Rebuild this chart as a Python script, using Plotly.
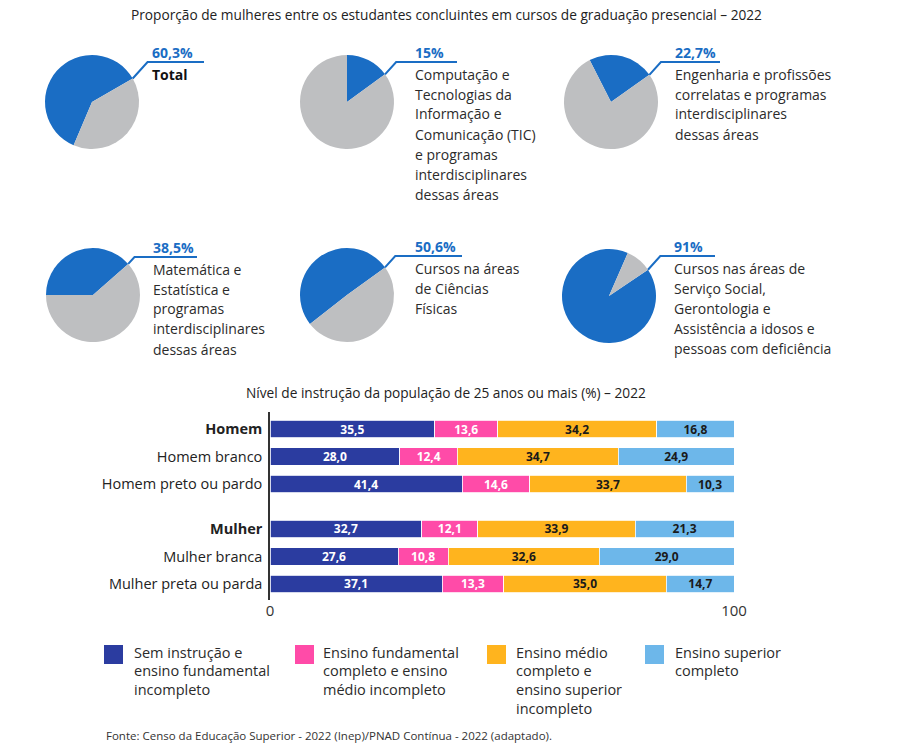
import plotly.graph_objects as go
import math

# ---------------- data ----------------
title_top = "Proporção de mulheres entre os estudantes concluintes em cursos de graduação presencial – 2022"
pie_pct_labels = ["60,3%", "15%", "22,7%", "38,5%", "50,6%", "91%"]
pie_values = [60.3, 15.0, 22.7, 38.5, 50.6, 91.0]
pie_names = [
    "Total",
    "Computação e\nTecnologias da\nInformação e\nComunicação (TIC)\ne programas\ninterdisciplinares\ndessas áreas",
    "Engenharia e profissões\ncorrelatas e programas\ninterdisciplinares\ndessas áreas",
    "Matemática e\nEstatística e\nprogramas\ninterdisciplinares\ndessas áreas",
    "Cursos na áreas\nde Ciências\nFísicas",
    "Cursos nas áreas de\nServiço Social,\nGerontologia e\nAssistência a idosos e\npessoas com deficiência",
]

bar_title = "Nível de instrução da população de 25 anos ou mais (%) – 2022"
categories = ["Homem", "Homem branco", "Homem preto ou pardo",
              "Mulher", "Mulher branca", "Mulher preta ou parda"]
bold_categories = ["Homem", "Mulher"]
series_names = [
    "Sem instrução e\nensino fundamental\nincompleto",
    "Ensino fundamental\ncompleto e ensino\nmédio incompleto",
    "Ensino médio\ncompleto e\nensino superior\nincompleto",
    "Ensino superior\ncompleto",
]
sem_instrucao = [35.5, 28.0, 41.4, 32.7, 27.6, 37.1]
fundamental = [13.6, 12.4, 14.6, 12.1, 10.8, 13.3]
medio = [34.2, 34.7, 33.7, 33.9, 32.6, 35.0]
superior = [16.8, 24.9, 10.3, 21.3, 29.0, 14.7]
x_ticks = [0, 100]
footnote = "Fonte: Censo da Educação Superior - 2022 (Inep)/PNAD Contínua - 2022 (adaptado)."

# ---------------- style / layout ----------------
W, H = 912, 754
FONT = "Open Sans"
BLUE = "#1A6DC4"
GRAY = "#BEBFC1"
TXT = "#2b2b2b"
bar_colors = ["#2B3CA0", "#FF4BA8", "#FFB41E", "#6DB7EA"]
bar_text_colors = ["white", "white", "#1a1a1a", "#1a1a1a"]


def px(x):
    return x / W


def py(y):
    return 1 - y / H


fig = go.Figure()
annotations = []
shapes = []

# pies
pie_centers = [(92, 102), (347, 102), (611, 102), (93, 295), (347, 295), (609, 296)]
pie_r = 47
pie_rot = [203, 0, 333, 270, 232, 56]
leader_angle = [60, 54, 54.7, 48.6, 54, 56]
line_y = [62, 62, 62, 257, 256, 256]
text_x = [150, 413, 673, 151, 413, 672]
line_end = [204, 457, 720, 197, 462, 715]

for i, v in enumerate(pie_values):
    cx, cy = pie_centers[i]
    fig.add_trace(go.Pie(
        values=[v, 100 - v],
        marker=dict(colors=[BLUE, GRAY], line=dict(width=0)),
        sort=False, direction="clockwise", rotation=pie_rot[i],
        textinfo="none", hoverinfo="skip", showlegend=False, automargin=False,
        domain=dict(x=[px(cx - pie_r), px(cx + pie_r)],
                    y=[py(cy + pie_r), py(cy - pie_r)]),
    ))
    a = math.radians(leader_angle[i])
    sx = cx + pie_r * math.sin(a)
    sy = cy - pie_r * math.cos(a)
    ex = sx + (sy - line_y[i]) * 0.9
    shapes.append(dict(
        type="path", xref="paper", yref="paper",
        path=f"M {px(sx)} {py(sy)} L {px(ex)} {py(line_y[i])} L {px(line_end[i])} {py(line_y[i])}",
        line=dict(color=BLUE, width=2),
    ))
    annotations.append(dict(
        x=px(text_x[i]), y=py(line_y[i] - 10), xref="paper", yref="paper",
        text=f"<b>{pie_pct_labels[i]}</b>", showarrow=False,
        xanchor="left", yanchor="middle",
        font=dict(family=FONT, size=14, color=BLUE),
    ))
    for j, ln in enumerate(pie_names[i].split("\n")):
        t = f"<b>{ln}</b>" if ln == "Total" else ln
        annotations.append(dict(
            x=px(text_x[i]), y=py(line_y[i] + 12 + 20 * j), xref="paper", yref="paper",
            text=t, showarrow=False, xanchor="left", yanchor="middle",
            font=dict(family=FONT, size=14, color="#111" if ln == "Total" else TXT),
        ))

# bars
gap = 1.636
ypos = [i if i < 3 else i - 1 + gap for i in range(len(categories))]
series = [sem_instrucao, fundamental, medio, superior]
for k, vals in enumerate(series):
    fig.add_trace(go.Bar(
        y=ypos, x=vals, orientation="h", width=0.65,
        name=series_names[k].replace("\n", " "),
        marker=dict(color=bar_colors[k], line=dict(color="white", width=0.8)),
        text=[f"{v:.1f}".replace(".", ",") for v in vals],
        textposition="inside", insidetextanchor="middle",
        textfont=dict(family=FONT, size=12, color=bar_text_colors[k], weight="bold"),
        textangle=0, constraintext="none",
        hoverinfo="skip", showlegend=False,
    ))

ticktext = [f"<b>{c}</b>" if c in bold_categories else c for c in categories]

top_px, bot_px, row0_px, pitch = 412, 600, 429, 27.5
fig.update_layout(
    width=W, height=H, autosize=False,
    margin=dict(l=0, r=0, t=0, b=0, pad=0, autoexpand=False),
    paper_bgcolor="white", plot_bgcolor="white",
    barmode="stack",
    font=dict(family=FONT, color=TXT),
    xaxis=dict(domain=[px(270), px(734)], range=[0, 100], tickvals=x_ticks,
               showgrid=False, zeroline=False, showline=False, ticks="",
               automargin=False,
               tickfont=dict(family=FONT, size=15, color="#333")),
    yaxis=dict(domain=[py(bot_px), py(top_px)],
               range=[(bot_px - row0_px) / pitch, (top_px - row0_px) / pitch],
               tickvals=ypos, ticktext=ticktext, showgrid=False, zeroline=False,
               showline=True, linecolor="#333", linewidth=1.5, ticks="",
               ticklabelstandoff=3, automargin=False,
               tickfont=dict(family=FONT, size=14.5, color="#222")),
)

# titles
annotations.append(dict(x=px(446), y=py(14), xref="paper", yref="paper", text=title_top,
                        showarrow=False, xanchor="center", yanchor="middle",
                        font=dict(family=FONT, size=13.7, color="#222")))
annotations.append(dict(x=px(446), y=py(392), xref="paper", yref="paper", text=bar_title,
                        showarrow=False, xanchor="center", yanchor="middle",
                        font=dict(family=FONT, size=13.7, color="#222")))

# legend
leg_sw_x = [104, 295, 487, 645]
leg_tx_x = [132, 321, 514, 673]
for k in range(4):
    shapes.append(dict(type="rect", xref="paper", yref="paper",
                       x0=px(leg_sw_x[k]), x1=px(leg_sw_x[k] + 19),
                       y0=py(664), y1=py(645),
                       fillcolor=bar_colors[k], line=dict(width=0)))
    for j, ln in enumerate(series_names[k].split("\n")):
        annotations.append(dict(x=px(leg_tx_x[k]), y=py(652 + 18.7 * j), xref="paper", yref="paper",
                                text=ln, showarrow=False, xanchor="left", yanchor="middle",
                                font=dict(family=FONT, size=14.5, color=TXT)))

annotations.append(dict(x=px(104), y=py(735), xref="paper", yref="paper", text=footnote,
                        showarrow=False, xanchor="left", yanchor="middle",
                        font=dict(family=FONT, size=11.5, color="#333")))

fig.update_layout(annotations=annotations, shapes=shapes)
fig.write_html("out.html", config={"displayModeBar": False},
               post_script="document.body.style.margin='0';")
